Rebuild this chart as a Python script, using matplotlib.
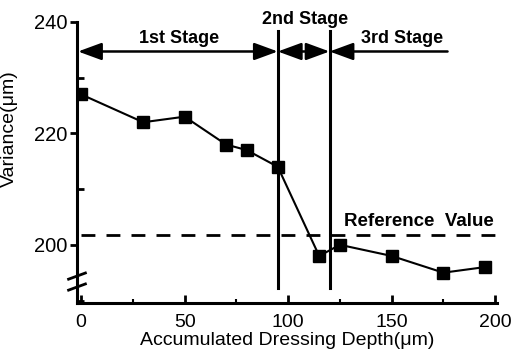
import matplotlib.pyplot as plt
from matplotlib.patches import FancyArrowPatch
from matplotlib.ticker import MultipleLocator

plt.rcParams['font.family'] = ['Liberation Sans', 'DejaVu Sans']

# data
depth = [0, 30, 50, 70, 80, 95, 115, 125, 150, 175, 195]
variance = [227, 222, 223, 218, 217, 214, 198, 200, 198, 195, 196]
ref_value = 201.8
stage_bounds = [95, 120]

fig = plt.figure(figsize=(5.15, 3.6), dpi=100)
ax = fig.add_axes([0.1495, 0.159, 0.816, 0.78])

ax.plot(depth, variance, color='black', lw=1.5, marker='s', ms=8.5,
        mfc='black', mec='black', zorder=3)

# reference line
ax.plot([0, 200], [ref_value, ref_value], color='black', lw=2, ls=(0, (5, 4)))
ax.text(163, 203.4, 'Reference  Value', fontsize=13.5, fontweight='bold', ha='center')

# stage dividers
for b in stage_bounds:
    ax.plot([b, b], [192.3, 238.3], color='black', lw=2.2)

arrow_y = 234.7
head = 'head_length=0.9,head_width=0.33'
for x0, x1 in [(-1.5, stage_bounds[0]), (stage_bounds[0], stage_bounds[1])]:
    ax.add_patch(FancyArrowPatch((x0, arrow_y), (x1, arrow_y), arrowstyle='<|-|>,' + head,
                                 mutation_scale=16, color='black', lw=1.8,
                                 shrinkA=0, shrinkB=0))
ax.add_patch(FancyArrowPatch((stage_bounds[1], arrow_y), (177, arrow_y),
                             arrowstyle='<|-,' + head,
                             mutation_scale=16, color='black', lw=1.8,
                             shrinkA=0, shrinkB=0))

ax.text(47.5, 236.3, '1st Stage', fontsize=13, fontweight='bold', ha='center')
ax.text(108, 239.6, '2nd Stage', fontsize=13, fontweight='bold', ha='center')
ax.text(155, 236.3, '3rd Stage', fontsize=13, fontweight='bold', ha='center')

ax.set_xlim(-2, 201)
ax.set_ylim(189.6, 240)
ax.set_xticks([0, 50, 100, 150, 200])
ax.set_yticks([200, 220, 240])
ax.xaxis.set_minor_locator(MultipleLocator(25))
ax.yaxis.set_minor_locator(MultipleLocator(10))
ax.tick_params(axis='x', which='major', direction='in', length=6, width=2,
               labelsize=14, pad=8)
ax.tick_params(axis='x', which='minor', direction='in', length=3, width=1.5)
ax.tick_params(axis='y', which='major', direction='out', length=5, width=2,
               labelsize=14.5, pad=2)
ax.tick_params(axis='y', which='minor', direction='in', length=5, width=2)

for side in ['top', 'right']:
    ax.spines[side].set_visible(False)
for side in ['left', 'bottom']:
    ax.spines[side].set_linewidth(2.2)

ax.set_xlabel('Accumulated Dressing Depth(\u03bcm)', fontsize=14, labelpad=1)
ax.set_ylabel('Variance(\u03bcm)', fontsize=14)
ax.yaxis.set_label_coords(-0.14, 0.62)

# axis break marks
for yb in [0.095, 0.056]:
    ax.plot([-0.02, 0.02], [yb - 0.011, yb + 0.011], transform=ax.transAxes,
            color='black', lw=2, clip_on=False)

fig.savefig('out.png', dpi=100)
